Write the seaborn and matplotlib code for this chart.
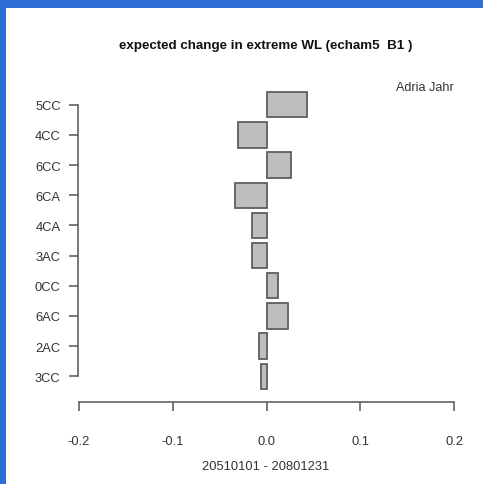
import matplotlib
matplotlib.use("Agg")
import matplotlib.pyplot as plt
import seaborn as sns
import pandas as pd
from matplotlib.patches import Rectangle

# data
stations = ["5CC", "4CC", "6CC", "6CA", "4CA", "3AC", "0CC", "6AC", "2AC", "3CC"]
change = [0.0435, -0.0305, 0.026, -0.0334, -0.0153, -0.0153, 0.012, 0.0224, -0.0082, -0.0057]
xticks = [-0.2, -0.1, 0.0, 0.1, 0.2]
xtick_labels = ["-0.2", "-0.1", "0.0", "0.1", "0.2"]

df = pd.DataFrame({"station": stations, "change": change})

sns.set_style("white")
plt.rcParams["font.family"] = ["Liberation Sans", "DejaVu Sans"]

W, H = 483, 485
fig = plt.figure(figsize=(W / 100, H / 100), dpi=100, facecolor="#2d6fd6")
# white page inside the blue frame
fig.patches.append(Rectangle((6 / W, 0), 1, 1 - 9 / H, transform=fig.transFigure,
                             facecolor="white", edgecolor="none", zorder=-10))

ax = fig.add_axes([79 / W, 92.6 / H, (454 - 79) / W, (394.4 - 92.6) / H])
ax.set_facecolor("none")

sns.barplot(data=df, x="change", y="station", orient="h", order=stations,
            color="#bebdc0", edgecolor="#5e5e5e", linewidth=1.3, width=0.84,
            saturation=1, ax=ax)

ax.set_xlim(-0.2, 0.2)
ax.set_ylim(9.5, -0.5)
ax.set_xticks(xticks)
ax.set_xticklabels(xtick_labels)
ax.set_xlabel("")
ax.set_ylabel("")

for s in ["top", "right"]:
    ax.spines[s].set_visible(False)
ax.spines["left"].set_bounds(0, 9)
ax.spines["bottom"].set_bounds(-0.2, 0.2)
ax.spines["bottom"].set_position(("outward", 7.4))
ax.spines["left"].set_position(("outward", 0.7))
for s in ["left", "bottom"]:
    ax.spines[s].set_color("#555555")
    ax.spines[s].set_linewidth(1.1)

ax.tick_params(axis="x", length=6.5, width=1.1, color="#555555", pad=17.5,
               labelsize=9.3, labelcolor="#333333", direction="out", bottom=True)
ax.tick_params(axis="y", length=6.5, width=1.1, color="#555555", pad=6,
               labelsize=9.3, labelcolor="#333333", direction="out", left=True)

fig.text(266 / W, 1 - 46.5 / H, "expected change in extreme WL (echam5  B1 )",
         ha="center", va="center", fontsize=9.6, fontweight="bold", color="#111111")
fig.text(454 / W, 1 - 88 / H, "Adria Jahr", ha="right", va="center",
         fontsize=9.1, color="#333333")
fig.text(266 / W, 1 - 467.5 / H, "20510101 - 20801231", ha="center", va="center",
         fontsize=9.3, color="#333333")

fig.savefig("out.png", dpi=100, facecolor=fig.get_facecolor())
